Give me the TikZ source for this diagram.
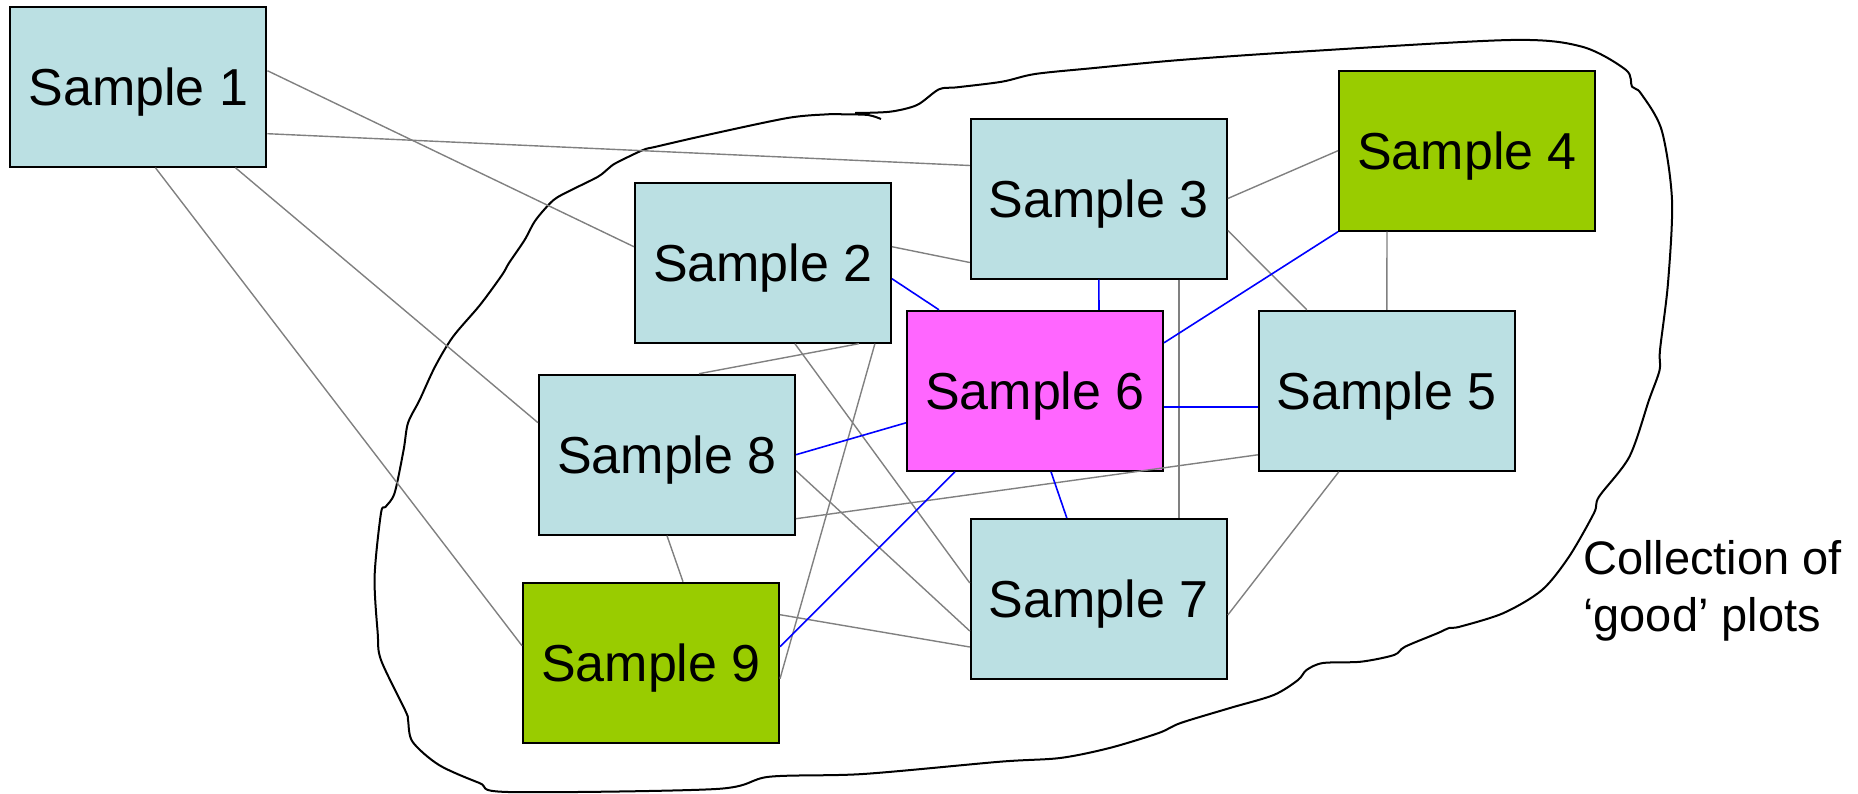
\documentclass[tikz,border=0pt]{standalone}
\usepackage{fontspec}
\setmainfont{Liberation Sans}
\definecolor{lblue}{HTML}{BBE0E3}
\definecolor{lgreen}{HTML}{99CC00}
\definecolor{mag}{HTML}{FF66FF}
\begin{document}
\begin{tikzpicture}[x=1pt,y=-1pt,
  sbox/.style={draw=black, line width=2pt, minimum width=256pt, minimum height=160pt,
    inner sep=0pt, font=\fontsize{52}{60}\selectfont, text height=37pt, text depth=0pt},
  gl/.style={draw=gray, line width=1.4pt},
  bl/.style={draw=blue, line width=1.6pt},
  lab/.style={anchor=base west, inner sep=0pt, font=\fontsize{47}{57}\selectfont}]
\useasboundingbox (0,0) rectangle (1858,793);
% blob
\draw[line width=2pt, line join=round] plot[smooth, tension=0.5] coordinates {
 (881,119) (868,115) (843,114.3) (827.7,114.3) (787.5,118) (707,135) (656,146.7) (643,150)
 (616,163) (609,168) (598,176.7) (571.4,190) (553.6,200) (535.7,220) (524.6,240) (509,263)
 (502,275) (480,305) (453,336.7) (435,366.7) (419.6,400) (408,423) (403.6,450) (394.6,493)
 (385.7,506.7) (381,513) (374.6,576.7) (377.7,633) (381,660) (405.8,711.7) (408,720)
 (412.5,741.7) (439,765) (479.5,783) (508.5,792) (716,789) (769.6,776.7) (863,774)
 (1000,761.7) (1060,758) (1109.5,748) (1158.7,733) (1180.6,723) (1230,708) (1273.7,695)
 (1298,680) (1306.5,670) (1323,663) (1361,661.7) (1394,655) (1405,646.7) (1438,633)
 (1449,628) (1459.8,626.7) (1503.6,613) (1542,590) (1569,556.7) (1594,513) (1599,496.7)
 (1629.4,456.7) (1649,400) (1659.6,370) (1660,350) (1668,283) (1672,200) (1661.6,130)
 (1640.6,93) (1632,86.7) (1626,70) (1582,46.7) (1510.5,40) (1300,51.7) (1180,60)
 (1091,68.3) (1035,74) (1002,81.7) (957,87.3) (939,89.3) (917,105) (890,111.7) (855,113)};
% nodes
\node[sbox, fill=lblue]  (s1) at (138.4,86.7)  {Sample 1};
\node[sbox, fill=lblue]  (s2) at (762.9,262.7) {Sample 2};
\node[sbox, fill=lblue]  (s3) at (1098.8,198.5) {Sample 3};
\node[sbox, fill=lgreen] (s4) at (1467,150.7)  {Sample 4};
\node[sbox, fill=lblue]  (s5) at (1386.8,390.8) {Sample 5};
\node[sbox, fill=mag]    (s6) at (1035,390.8)  {Sample 6};
\node[sbox, fill=lblue]  (s7) at (1098.8,599)  {Sample 7};
\node[sbox, fill=lblue]  (s8) at (667,454.7)   {Sample 8};
\node[sbox, fill=lgreen] (s9) at (651,662.7)   {Sample 9};
% gray connectors
\draw[gl] ([yshift=16]s1.east) -- ([yshift=16]s2.west);
\draw[gl] ([yshift=-47]s1.east) -- ([yshift=33]s3.west);
\draw[gl] ([xshift=97]s1.south) -- ([yshift=32]s8.west);
\draw[gl] ([xshift=17]s1.south) -- ([yshift=17]s9.west);
\draw[gl] ([yshift=16]s2.east) -- ([yshift=-64]s3.west);
\draw[gl] ([xshift=80]s3.south) -- ([xshift=80]s7.north);
\draw[gl] (s3.east) -- (s4.west);
\draw[gl] ([yshift=-32]s3.east) -- ([xshift=-80]s5.north);
\draw[gl] ([xshift=-80]s4.south) -- (s5.north);
\draw[gl] ([xshift=96]s2.south) -- ([xshift=32]s8.north);
\draw[gl] ([xshift=32]s2.south) -- ([yshift=16]s7.west);
\draw[gl] ([xshift=112]s2.south) -- ([yshift=-16]s9.east);
\draw[gl] (s8.south) -- ([xshift=32]s9.north);
\draw[gl] ([yshift=-16]s8.east) -- ([yshift=-32]s7.west);
\draw[gl] ([yshift=-64]s8.east) -- ([yshift=-64]s5.west);
\draw[gl] ([yshift=48]s9.east) -- ([yshift=-48]s7.west);
\draw[gl] ([xshift=-48]s5.south) -- ([yshift=-16]s7.east);
% blue connectors
\draw[bl] ([yshift=-16]s2.east) -- ([xshift=-96]s6.north);
\draw[bl] (s3.south) -- ([xshift=64]s6.north);
\draw[bl] ([yshift=48]s6.east) -- (s4.south west);
\draw[bl] (s8.east) -- ([yshift=-32]s6.west);
\draw[bl] ([yshift=16]s9.east) -- ([xshift=-80]s6.south);
\draw[bl] ([xshift=16]s6.south) -- ([xshift=-32]s7.north);
\draw[bl] ([yshift=-16]s6.east) -- ([yshift=-16]s5.west);
% label
\node[lab] (l1) at (1583,574) {Collection of};
\node[lab] (l2) at (1583,631) {‘good’ plots};
\end{tikzpicture}
\end{document}
